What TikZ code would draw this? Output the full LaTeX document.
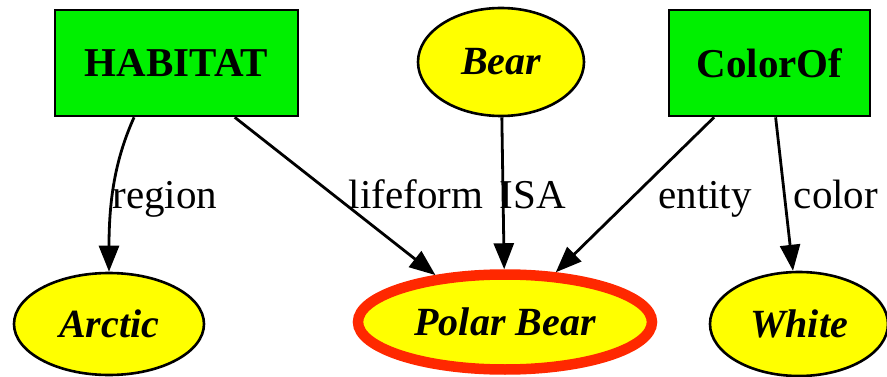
\documentclass[tikz,border=0pt]{standalone}
\usepackage{fontspec}
\setmainfont{Liberation Serif}
\usetikzlibrary{shapes.geometric,arrows.meta}

\definecolor{boxgreen}{RGB}{0,240,0}
\definecolor{nodeyellow}{RGB}{255,255,0}
\definecolor{ringred}{RGB}{255,40,0}

\tikzset{
  relbox/.style={draw=black, line width=2.6pt, fill=boxgreen, inner sep=0pt,
    minimum width=243, minimum height=106, font=\fontsize{41}{49}\selectfont\bfseries},
  concept/.style={ellipse, draw=black, line width=2.6pt, fill=nodeyellow, inner sep=0pt,
    font=\fontsize{40}{48}\selectfont\bfseries\itshape},
  edge/.style={line width=2.8pt, -{Triangle[length=26pt, width=20pt]}},
  edgelabel/.style={anchor=base, inner sep=0pt, font=\fontsize{41}{49}\selectfont},
}

\begin{document}
\begin{tikzpicture}[x=1pt, y=-1pt]
  %% ════ top row ════
  \node[relbox] (habitat) at (176.5,63) {HABITAT};
  \node[concept, minimum width=166, minimum height=108] (bear) at (501,62) {Bear};
  \node[relbox, minimum width=201] (colorof) at (769.5,63) {ColorOf};

  %% ════ bottom row ════
  \node[concept, minimum width=190, minimum height=102] (arctic) at (109,324) {Arctic};
  \node[concept, draw=ringred, line width=10.5pt, minimum width=294, minimum height=95] (polar) at (505,322) {Polar Bear};
  \node[concept, minimum width=178, minimum height=104] (white) at (799,324) {White};

  %% ════ connectors ════
  \draw[edge] (habitat.-128) .. controls +(-18,40) and +(0,-75) .. (arctic.north);
  \draw[edge] (habitat.-43) -- (polar.146);
  \draw[edge] (bear) -- (polar);
  \draw[edge] (colorof) -- (polar);
  \draw[edge] (colorof) -- (white);

  %% ════ edge labels ════
  \node[edgelabel] (lregion) at (165,208) {region};
  \node[edgelabel] (llifeform) at (416,208) {lifeform};
  \node[edgelabel] (lisa) at (533,208) {ISA};
  \node[edgelabel] (lentity) at (705,208) {entity};
  \node[edgelabel] (lcolor) at (836,208) {color};

  \pgfresetboundingbox
  \path[use as bounding box] (0,0) rectangle (887,377);
\end{tikzpicture}
\end{document}
